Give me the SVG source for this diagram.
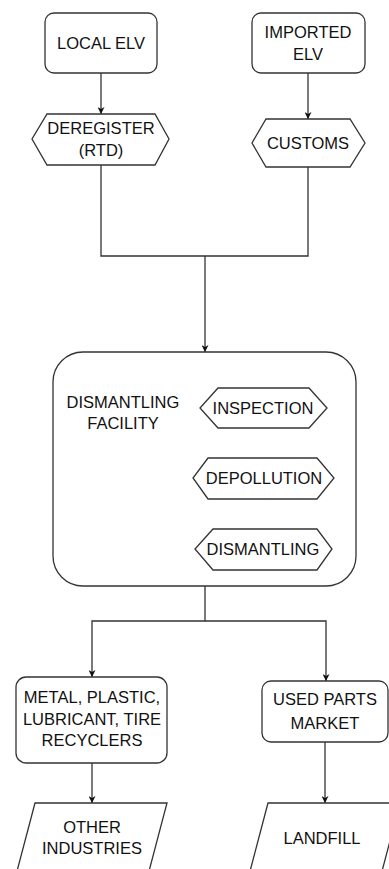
<svg xmlns="http://www.w3.org/2000/svg" width="389" height="869" viewBox="0 0 389 869">
<style>
.n{fill:#fff;stroke:#333;stroke-width:1.3}
.c{fill:none;stroke:#333;stroke-width:1.3}
text{font-family:"Liberation Sans",Arial,sans-serif;font-size:16.5px;fill:#111;text-anchor:middle;dominant-baseline:central}
</style>
<defs>
<marker id="a" viewBox="0 0 10 10" refX="10" refY="5" markerWidth="7" markerHeight="7" markerUnits="userSpaceOnUse" orient="auto">
<path d="M0,0 L10,5 L0,10 L3,5 Z" fill="#111"/>
</marker>
</defs>
<rect width="389" height="869" fill="#fff"/>
<g id="connectors">
<path class="c" d="M101,73 V114" marker-end="url(#a)"/>
<path class="c" d="M308,73 V119" marker-end="url(#a)"/>
<path class="c" d="M101,165 V256 H308 V167"/>
<path class="c" d="M205,256 V352" marker-end="url(#a)"/>
<path class="c" d="M205,586 V621 H92 V677" marker-end="url(#a)"/>
<path class="c" d="M205,621 H326 V681" marker-end="url(#a)"/>
<path class="c" d="M92,763 V803" marker-end="url(#a)"/>
<path class="c" d="M325,742 V803" marker-end="url(#a)"/>
</g>
<g id="local-elv">
<rect class="n" x="45" y="13" width="112" height="60" rx="9"/>
<text x="101" y="43">LOCAL ELV</text>
</g>
<g id="imported-elv">
<rect class="n" x="252" y="13" width="113" height="60" rx="9"/>
<text x="308" y="32">IMPORTED</text>
<text x="308" y="54">ELV</text>
</g>
<g id="deregister">
<polygon class="n" points="47,114 155,114 169,139 155,165 47,165 32,139"/>
<text x="101" y="128">DEREGISTER</text>
<text x="101" y="150">(RTD)</text>
</g>
<g id="customs">
<polygon class="n" points="266,119 350,119 365,143 350,167 266,167 252,143"/>
<text x="308" y="143">CUSTOMS</text>
</g>
<g id="dismantling-facility">
<rect class="n" x="53" y="352" width="303" height="234" rx="30"/>
<text x="123" y="402">DISMANTLING</text>
<text x="123" y="423">FACILITY</text>
</g>
<g id="inspection">
<polygon class="n" points="218,388 309,388 327,408 309,428 218,428 200,408"/>
<text x="263" y="408">INSPECTION</text>
</g>
<g id="depollution">
<polygon class="n" points="208,458 317,458 334,478 317,499 208,499 193,478"/>
<text x="264" y="478">DEPOLLUTION</text>
</g>
<g id="dismantling">
<polygon class="n" points="213,529 317,529 332,549 317,570 213,570 195,549"/>
<text x="263" y="549">DISMANTLING</text>
</g>
<g id="recyclers">
<rect class="n" x="16" y="677" width="151" height="86" rx="10"/>
<text x="92" y="697">METAL, PLASTIC,</text>
<text x="92" y="719">LUBRICANT, TIRE</text>
<text x="92" y="740">RECYCLERS</text>
</g>
<g id="used-parts-market">
<rect class="n" x="262" y="681" width="126" height="61" rx="9"/>
<text x="325" y="699">USED PARTS</text>
<text x="325" y="723">MARKET</text>
</g>
<g id="other-industries">
<polygon class="n" points="35,803 167,803 148,875 16,875"/>
<text x="92" y="827">OTHER</text>
<text x="92" y="848">INDUSTRIES</text>
</g>
<g id="landfill">
<polygon class="n" points="268,803 400,803 381,875 249,875"/>
<text x="322" y="838">LANDFILL</text>
</g>
</svg>
